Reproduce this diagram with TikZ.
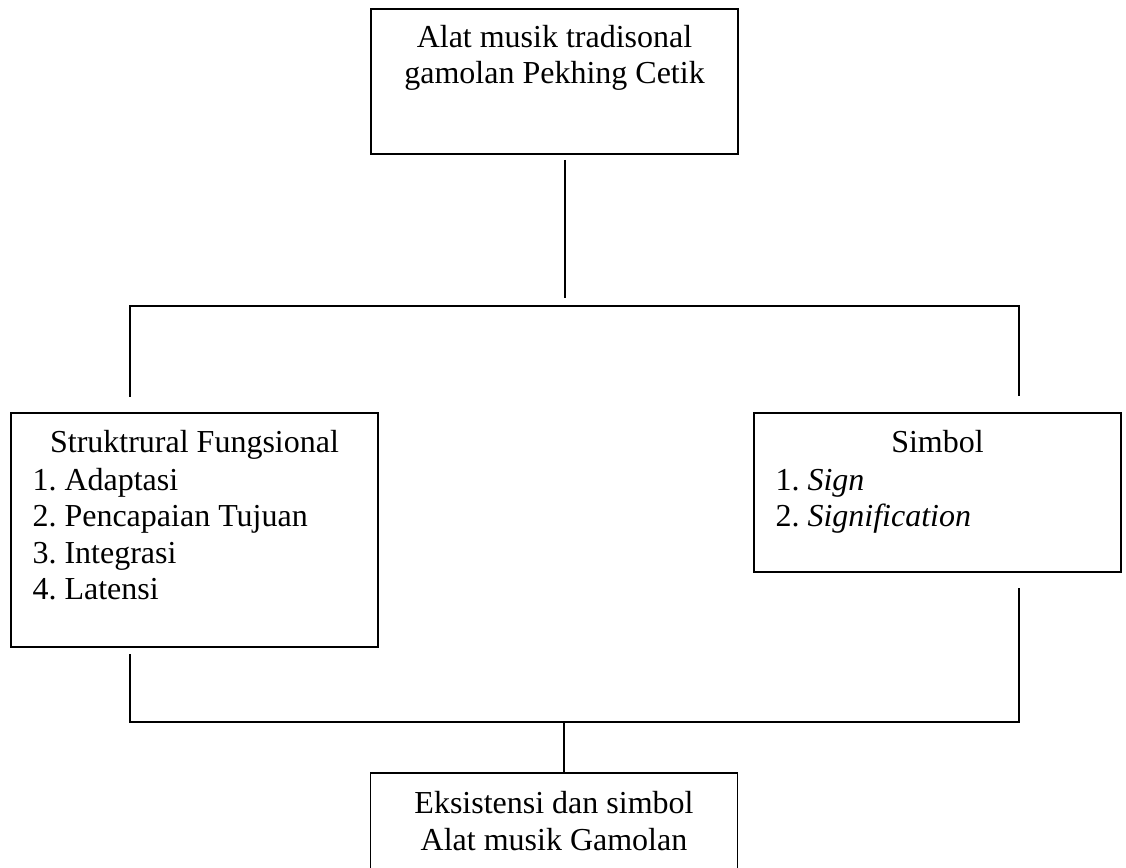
\documentclass[tikz,border=0pt]{standalone}
\usepackage{fontspec}
\setmainfont{Liberation Serif}
\frenchspacing
\usetikzlibrary{positioning,calc}

\begin{document}
\begin{tikzpicture}[x=0.375pt,y=-0.375pt,
    kotak/.style={draw,line width=0.55pt,inner sep=0pt,minimum width=137.6pt},
    judul/.style={inner sep=0pt,align=center,font=\fontsize{12}{13.6}\selectfont},
    daftar/.style={inner sep=0pt,align=left,font=\fontsize{12}{13.7}\selectfont}]
\useasboundingbox (0,0) rectangle (1126,868);
% kotak-kotak
\node[kotak,minimum height=54.4pt] (alat) at (554.5,81.5) {};
\node[kotak,minimum height=87.75pt] (sf) at (194.5,530) {};
\node[kotak,minimum height=59.6pt] (sb) at (937.5,492.5) {};
\node[kotak,minimum height=54.4pt] (eks) at (554,845.5) {};
% isi (base = baris terakhir)
\node[judul,anchor=base] (alat-t) at (554.5,84) {Alat musik tradisonal\\gamolan Pekhing Cetik};
\node[judul,anchor=base] (sf-t) at (194.5,453) {Struktrural Fungsional};
\node[daftar,anchor=base west] (sf-l) at (32,600) {1. Adaptasi\\2. Pencapaian Tujuan\\3. Integrasi\\4. Latensi};
\node[judul,anchor=base] (sb-t) at (937.5,453) {Simbol};
\node[daftar,anchor=base west] (sb-l) at (775,527) {1. \textit{Sign}\\2. \textit{Signification}};
\node[judul,anchor=base] (eks-t) at (554,850) {Eksistensi dan simbol\\Alat musik Gamolan};
% garis
\coordinate (a1) at (565,160);
\coordinate (a2) at (565,298);
\coordinate (c1) at (130,306);
\coordinate (c2) at (1019,306);
\coordinate (c3) at (130,397);
\coordinate (c4) at (1019,396);
\coordinate (d1) at (130,654);
\coordinate (d2) at (1019,588);
\coordinate (e1) at (130,722);
\coordinate (e2) at (1019,722);
\coordinate (e3) at (564,722);
\draw (a1) -- (a2);
\draw (c3) -- (c1) -- (c2) -- (c4);
\draw (d1) -- (e1) -- (e2) -- (d2);
\draw (e3) -- (e3 |- eks.north);
\end{tikzpicture}
\end{document}
